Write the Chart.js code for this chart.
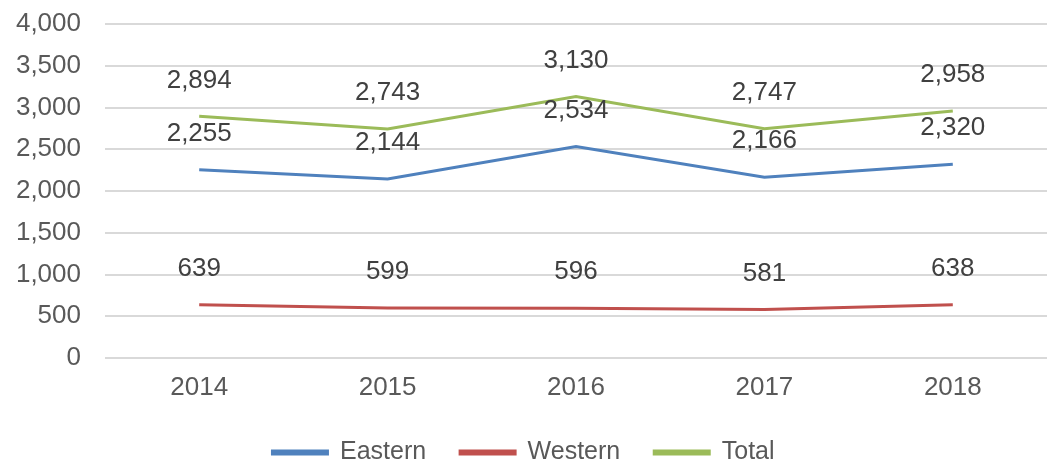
<!DOCTYPE html>
<html>
<head>
<meta charset="utf-8">
<script src="https://cdn.jsdelivr.net/npm/chart.js@4/dist/chart.umd.min.js"></script>
<style>
  html, body { margin: 0; padding: 0; background: #fff; }
  #wrap { width: 1047px; height: 464px; }
</style>
</head>
<body>
<div id="wrap"><canvas id="lineChart"></canvas></div>
<script>
const years = ["2014", "2015", "2016", "2017", "2018"];
const eastern = [2255, 2144, 2534, 2166, 2320];
const western = [639, 599, 596, 581, 638];
const total = [2894, 2743, 3130, 2747, 2958];
const yTicks = [0, 500, 1000, 1500, 2000, 2500, 3000, 3500, 4000];

const FONT = "'Liberation Sans', Arial, sans-serif";

// value labels above each point
const valueLabels = {
  id: "valueLabels",
  afterDatasetsDraw(chart) {
    const ctx = chart.ctx;
    ctx.save();
    ctx.font = "26px " + FONT;
    ctx.fillStyle = "#404040";
    ctx.textAlign = "center";
    ctx.textBaseline = "middle";
    chart.data.datasets.forEach((ds, i) => {
      const meta = chart.getDatasetMeta(i);
      meta.data.forEach((pt, j) => {
        ctx.fillText(ds.data[j].toLocaleString("en-US"), pt.x, pt.y - 36);
      });
    });
    ctx.restore();
  }
};

new Chart(document.getElementById("lineChart"), {
  type: "line",
  data: {
    labels: years,
    datasets: [
      { label: "Eastern", data: eastern, borderColor: "#4f81bd", backgroundColor: "#4f81bd" },
      { label: "Western", data: western, borderColor: "#c0504d", backgroundColor: "#c0504d" },
      { label: "Total", data: total, borderColor: "#9bbb59", backgroundColor: "#9bbb59" }
    ].map(d => Object.assign(d, { borderWidth: 3, pointRadius: 0, tension: 0, fill: false }))
  },
  options: {
    responsive: true,
    maintainAspectRatio: false,
    animation: false,
    layout: { padding: { top: 24, right: 0, bottom: -11, left: 0 } },
    plugins: {
      tooltip: { enabled: false },
      legend: {
        position: "bottom",
        labels: {
          boxWidth: 55,
          boxHeight: 3,
          padding: 34,
          color: "#595959",
          font: { family: FONT, size: 25 }
        }
      }
    },
    scales: {
      x: {
        offset: true,
        afterFit: s => { s.height = 48; },
        grid: { display: false, drawTicks: false },
        border: { display: false },
        ticks: { color: "#595959", padding: 14, font: { family: FONT, size: 26 } }
      },
      y: {
        min: 0,
        max: 4000,
        afterFit: s => { s.width = 105; },
        afterBuildTicks: s => { s.ticks = yTicks.map(v => ({ value: v })); },
        grid: { color: "#d9d9d9", lineWidth: 2, drawTicks: true, tickLength: 24, tickColor: "transparent" },
        border: { display: false },
        ticks: {
          color: "#595959",
          padding: 0,
          font: { family: FONT, size: 26 },
          callback: v => v.toLocaleString("en-US")
        }
      }
    }
  },
  plugins: [valueLabels]
});
</script>
</body>
</html>
